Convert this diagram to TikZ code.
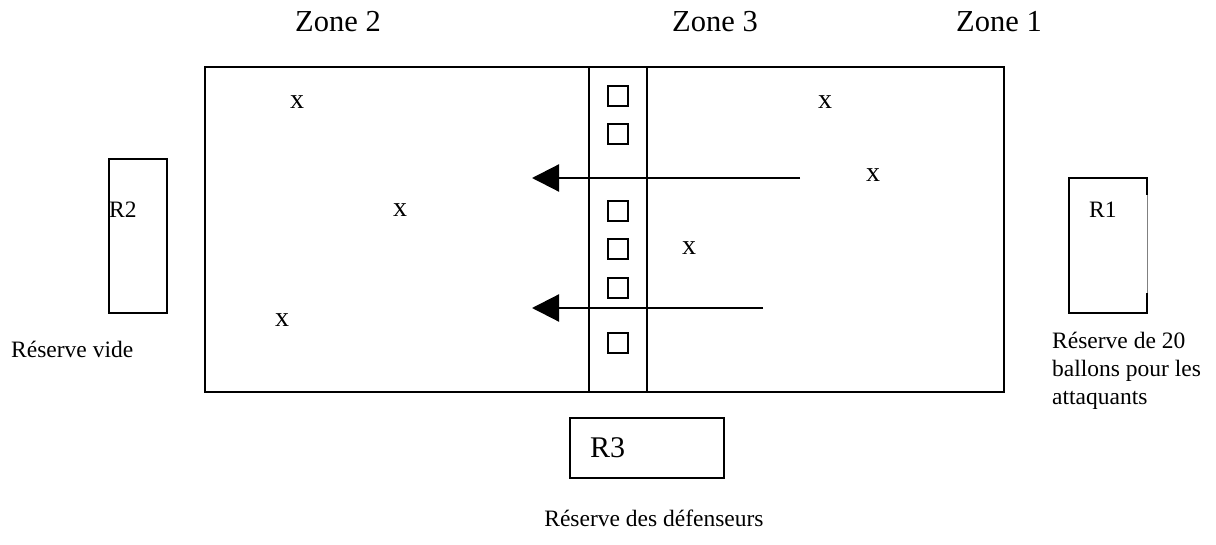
\documentclass[tikz,border=0pt]{standalone}
\usepackage{fontspec}
\setmainfont{Liberation Serif}
\usetikzlibrary{arrows.meta}
\begin{document}
\begin{tikzpicture}[x=1pt,y=-1pt,
  zonelbl/.style={inner sep=0pt,anchor=base,font=\fontsize{30.5}{34}\selectfont},
  smalltxt/.style={inner sep=0pt,font=\fontsize{23.5}{28}\selectfont},
  player/.style={inner sep=0pt,font=\fontsize{28}{30}\selectfont},
  cone/.style={draw,line width=1.4pt,minimum width=20pt,minimum height=20pt,inner sep=0pt},
  field/.style={draw,line width=1.4pt},
  strip/.style={line width=2.6pt},
  resbox/.style={draw,line width=1.6pt},
  pass/.style={line width=2.2pt,-{Triangle[length=27pt,width=27pt]}}]
\useasboundingbox (0,0) rectangle (1216,545);
% field
\draw[field] (205,67) rectangle (1004,392);
\coordinate (s1t) at (589,67); \coordinate (s1b) at (589,392);
\coordinate (s2t) at (647,67); \coordinate (s2b) at (647,392);
\draw[strip] (s1t) -- (s1b);
\draw[strip] (s2t) -- (s2b);
% zone labels
\node[zonelbl] (z2) at (338,32) {Zone 2};
\node[zonelbl] (z3) at (715,32) {Zone 3};
\node[zonelbl] (z1) at (999,32) {Zone 1};
% cones
\foreach \i/\y in {1/96,2/134,3/211,4/249,5/288,6/343}
  \node[cone] (c\i) at (618,\y) {};
% players
\node[player] (p1) at (297,102) {x};
\node[player] (p2) at (400,210) {x};
\node[player] (p3) at (282,320) {x};
\node[player] (p4) at (825,102) {x};
\node[player] (p5) at (873,175) {x};
\node[player] (p6) at (689,248) {x};
% arrows
\coordinate (a1s) at (800,178); \coordinate (a1e) at (532,178);
\coordinate (a2s) at (763,308); \coordinate (a2e) at (532,308);
\draw[pass] (a1s) -- (a1e);
\draw[pass] (a2s) -- (a2e);
% reserve R2
\draw[resbox] (109,159) rectangle (167,313);
\node[smalltxt,anchor=base west] (r2) at (109,218) {R2};
\node[smalltxt,anchor=base west] (rv) at (11,358) {Réserve vide};
% reserve R1
\draw[line width=1.6pt] (1147,195) -- (1147,178) -- (1069,178) -- (1069,313) -- (1147,313) -- (1147,293);
\draw[line width=0.6pt,gray] (1147,195) -- (1147,293);
\node[smalltxt,anchor=base west] (r1) at (1089,218) {R1};
\node[smalltxt,anchor=base west,align=left] (ra) at (1052,404) {Réserve de 20\\ballons pour les\\attaquants};
% reserve R3
\draw[line width=1.3pt] (570,418) rectangle (724,478);
\node[inner sep=0pt,anchor=base west,font=\fontsize{30}{33}\selectfont] (r3) at (590,457) {R3};
\node[smalltxt,anchor=base] (rd) at (654,526) {Réserve des défenseurs};
\end{tikzpicture}
\end{document}
